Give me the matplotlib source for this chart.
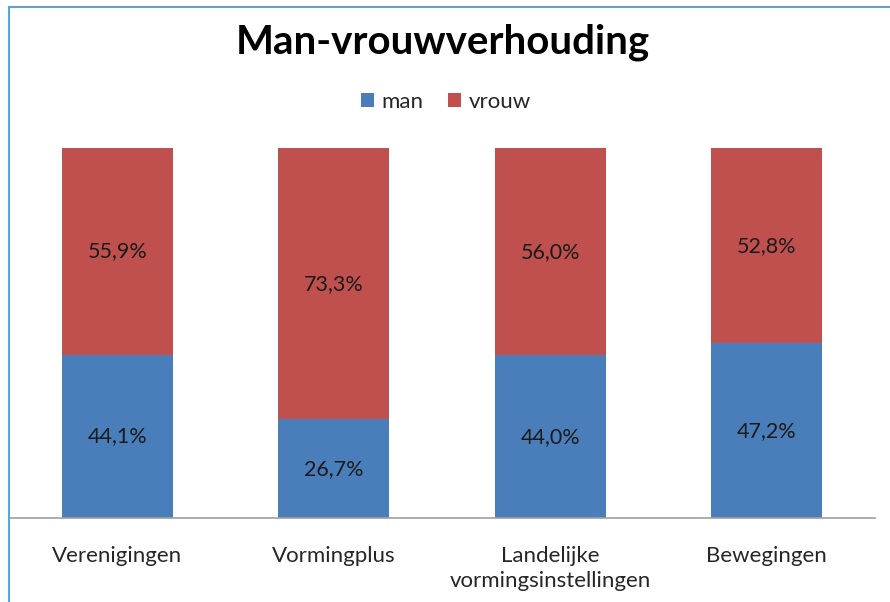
import matplotlib
matplotlib.use("Agg")
import matplotlib.pyplot as plt
from matplotlib.patches import Patch
from matplotlib.lines import Line2D

categories = ["Verenigingen", "Vormingplus", "Landelijke\nvormingsinstellingen", "Bewegingen"]
man = [44.1, 26.7, 44.0, 47.2]
vrouw = [55.9, 73.3, 56.0, 52.8]
series_names = ["man", "vrouw"]
colors = ["#4a7ebb", "#c0504d"]

plt.rcParams['font.family'] = ['Lato', 'DejaVu Sans']

W, H = 890, 602
fig = plt.figure(figsize=(W / 100, H / 100), dpi=100)
ax = fig.add_axes([9 / W, (H - 518) / H, (875 - 9) / W, (518 - 148) / H])

x = list(range(len(categories)))
bw = 0.513
ax.bar(x, man, width=bw, color=colors[0], label=series_names[0])
ax.bar(x, vrouw, width=bw, bottom=man, color=colors[1], label=series_names[1])

for i in x:
    ax.text(i, man[i] / 2, f"{man[i]:.1f}%".replace(".", ","), ha="center", va="center",
            fontsize=15.5, color="#1a1a1a")
    ax.text(i, man[i] + vrouw[i] / 2, f"{vrouw[i]:.1f}%".replace(".", ","), ha="center",
            va="center", fontsize=15.5, color="#1a1a1a")

ax.set_xlim(-0.5, len(categories) - 0.5)
ax.set_ylim(0, 100)
for s in ["top", "right", "left"]:
    ax.spines[s].set_visible(False)
ax.spines["bottom"].set_color("#a0a0a0")
ax.spines["bottom"].set_linewidth(1.2)
ax.set_yticks([])
ax.set_xticks(x)
ax.set_xticklabels(categories, fontsize=16, color="#262626", linespacing=1.3, va="top")
ax.tick_params(axis="x", length=0, pad=20)

fig.text(443 / W, 1 - 42 / H, "Man-vrouwverhouding", ha="center", va="center",
         fontsize=29, fontweight="bold", color="#000000")

handles = [Patch(facecolor=c, edgecolor="none") for c in colors]
fig.legend(handles, series_names, loc="center", bbox_to_anchor=(446 / W, 1 - 102 / H),
           ncol=2, frameon=False, fontsize=16, handlelength=0.6, handleheight=0.6,
           handletextpad=0.35, columnspacing=1.1, labelcolor="#262626")

# chart frame (top and left edges visible in the crop)
fig.add_artist(Line2D([9 / W, 1], [1 - 7 / H, 1 - 7 / H], transform=fig.transFigure,
                      color="#5aa5d6", linewidth=1.5))
fig.add_artist(Line2D([9 / W, 9 / W], [0, 1 - 7 / H], transform=fig.transFigure,
                      color="#5aa5d6", linewidth=1.5))

fig.savefig("out.png", dpi=100, facecolor="white")
